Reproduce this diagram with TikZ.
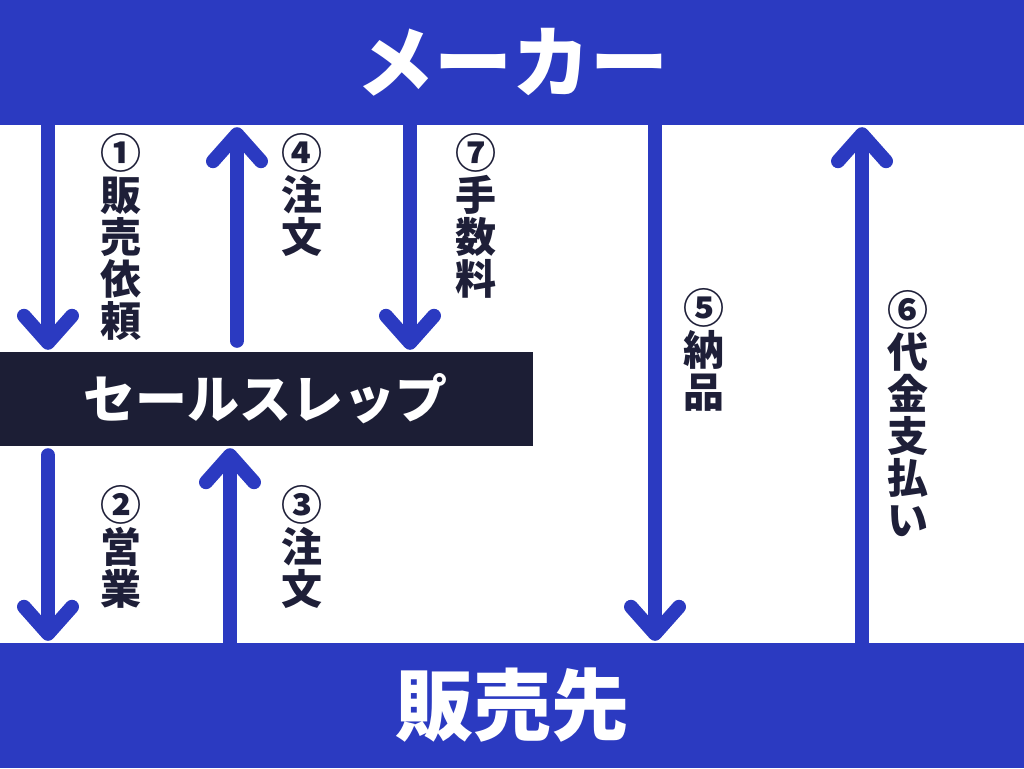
\documentclass[tikz,border=0pt]{standalone}
\usepackage{fontspec}
\newfontfamily\jp{Noto Sans CJK JP}
\usetikzlibrary{arrows.meta}
\definecolor{barblue}{HTML}{2B3AC1}
\definecolor{repdark}{HTML}{1C1E35}
\definecolor{txtdark}{HTML}{1E1F38}
\tikzset{
  bar/.style={fill=barblue, text=white, inner sep=0pt, minimum width=1024pt,
    font=\jp\bfseries\fontsize{78}{78}\selectfont},
  repbox/.style={fill=repdark, text=white, inner sep=0pt, minimum width=535pt, minimum height=94pt,
    font=\jp\bfseries\fontsize{52}{52}\selectfont},
  flow/.style={draw=barblue, line width=14pt, line cap=round,
    -{Straight Barb[length=27pt, width=48pt, round]}},
  lbl/.style={anchor=north, align=center, inner sep=0pt, text=txtdark,
    font=\jp\bfseries\fontsize{41}{42}\selectfont}
}
\begin{document}
\begin{tikzpicture}[x=1pt,y=-1pt]
\useasboundingbox (0,0) rectangle (1024,768);
\node[bar, minimum height=125pt] (top) at (512,62.5) {メーカー};
\node[bar, minimum height=125pt] (bot) at (512,705.5) {販売先};
\node[repbox] (rep) at (265,399) {セールスレップ};
% x positions
\coordinate (xa) at (48,0);
\coordinate (xd) at (237,0);
\coordinate (xg) at (410,0);
\coordinate (xe) at (655,0);
\coordinate (xf) at (862,0);
\coordinate (xc) at (230,0);
% arrows (yshift is in page direction: positive = up)
\draw[flow] (xa |- top.south) -- ([yshift=2pt]xa |- rep.north);
\draw[flow] ([yshift=11pt]xd |- rep.north) -- ([yshift=-2pt]xd |- top.south);
\draw[flow] (xg |- top.south) -- ([yshift=2pt]xg |- rep.north);
\draw[flow] (xe |- top.south) -- ([yshift=2pt]xe |- bot.north);
\draw[flow] (xf |- bot.north) -- ([yshift=-2pt]xf |- top.south);
\draw[flow] ([yshift=-9pt]xa |- rep.south) -- ([yshift=2pt]xa |- bot.north);
\draw[flow] (xc |- bot.north) -- ([yshift=-2pt]xc |- rep.south);
% labels
\node[lbl] (l1) at (121,133) {①\\販\\売\\依\\頼};
\node[lbl] (l4) at (302,133) {④\\注\\文};
\node[lbl] (l7) at (476,133) {⑦\\手\\数\\料};
\node[lbl] (l5) at (704,288) {⑤\\納\\品};
\node[lbl] (l6) at (908,290) {⑥\\代\\金\\支\\払\\い};
\node[lbl] (l2) at (121,485) {②\\営\\業};
\node[lbl] (l3) at (302,485) {③\\注\\文};
\end{tikzpicture}
\end{document}
